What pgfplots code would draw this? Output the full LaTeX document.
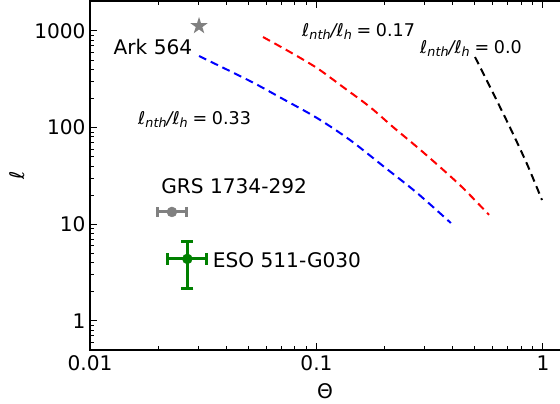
\documentclass[border=0pt]{standalone}
\usepackage{pgfplots}
\pgfplotsset{compat=1.18}
\usepackage{fontspec}
\setmainfont{DejaVu Sans}
\usetikzlibrary{plotmarks}
\definecolor{mplgray}{RGB}{128,128,128}
\definecolor{mplgreen}{RGB}{0,128,0}
\pgfdeclareplotmark{fstar}{%
  \pgfpathmoveto{\pgfpointpolar{90}{\pgfplotmarksize}}%
  \pgfpathlineto{\pgfpointpolar{126}{0.382\pgfplotmarksize}}%
  \pgfpathlineto{\pgfpointpolar{162}{\pgfplotmarksize}}%
  \pgfpathlineto{\pgfpointpolar{198}{0.382\pgfplotmarksize}}%
  \pgfpathlineto{\pgfpointpolar{234}{\pgfplotmarksize}}%
  \pgfpathlineto{\pgfpointpolar{270}{0.382\pgfplotmarksize}}%
  \pgfpathlineto{\pgfpointpolar{306}{\pgfplotmarksize}}%
  \pgfpathlineto{\pgfpointpolar{342}{0.382\pgfplotmarksize}}%
  \pgfpathlineto{\pgfpointpolar{18}{\pgfplotmarksize}}%
  \pgfpathlineto{\pgfpointpolar{54}{0.382\pgfplotmarksize}}%
  \pgfpathclose
  \pgfusepathqfill
}
\newcommand{\sub}[1]{\raisebox{-0.22em}{\fontsize{12.8}{13}\selectfont\itshape #1}}
\newcommand{\lrat}[1]{{\fontsize{17.6}{21}\selectfont\textit{ℓ}\sub{nth}\textit{/ℓ}\sub{h}\hspace{0.28em}=\hspace{0.26em}#1}}
\begin{document}
\begin{tikzpicture}[font=\fontsize{20.2}{24}\selectfont]
\path[use as bounding box, clip] (-90bp,-54bp) rectangle (470bp,350bp);
\begin{axis}[
  at={(0,0)}, anchor=south west,
  scale only axis, width=478.8bp, height=349bp,
  xmode=log, ymode=log,
  xmin=0.01, xmax=1.3, ymin=0.5, ymax=2040,
  clip=false,
  /pgf/number format/assume math mode=true,
  xtick={0.01,0.1,1}, xticklabels={0.01,0.1,1},
  ytick={1,10,100,1000}, yticklabels={1,10,100,1000},
  minor xtick={0.02,0.03,0.04,0.05,0.06,0.07,0.08,0.09,0.2,0.3,0.4,0.5,0.6,0.7,0.8,0.9},
  minor ytick={0.6,0.7,0.8,0.9,2,3,4,5,6,7,8,9,20,30,40,50,60,70,80,90,200,300,400,500,600,700,800,900},
  tick align=inside,
  major tick length=7bp, minor tick length=4bp,
  every tick/.style={black, line width=1bp},
  axis line style={line width=2.5bp},
  xticklabel style={yshift=-2bp},
  yticklabel style={xshift=-1bp},
  xlabel={Θ}, ylabel={\textit{ℓ}},
  every axis x label/.style={at={(rel axis cs:0,0)}, anchor=center, xshift=235bp, yshift=-41bp},
  every axis y label/.style={at={(rel axis cs:0,0)}, anchor=center, xshift=-73bp, yshift=175bp, rotate=90},
]
% theoretical tracks
\addplot[blue, line width=2bp, dash pattern=on 8bp off 5bp, smooth] coordinates {
 (0.0303,550) (0.05086,303.3) (0.07114,197.6) (0.1005,125.7) (0.1406,74.4) (0.1966,40.1) (0.2778,21.1) (0.392,10.3)};
\addplot[red, line width=2bp, dash pattern=on 8bp off 5bp, smooth] coordinates {
 (0.05806,865) (0.0764,605) (0.1005,413) (0.1309,263) (0.1722,163.3) (0.2177,101.4) (0.2778,63.0) (0.3509,39.1) (0.4434,23.7) (0.578,12.5)};
\addplot[black, line width=2bp, dash pattern=on 8bp off 5bp, smooth] coordinates {
 (0.501,537) (0.583,265) (0.714,101) (0.85,42) (0.99,17.8)};
% Ark 564
\addplot[only marks, mark=fstar, mark size=9bp, color=mplgray, mark options={fill=mplgray}] coordinates {(0.0303,1124)};
% GRS 1734-292
\addplot[only marks, mark=*, mark size=5bp, color=mplgray, mark options={fill=mplgray, draw=mplgray},
  error bars/.cd, x dir=both, x explicit,
  error bar style={line width=3bp, mplgray},
  error mark options={rotate=90, line width=3bp, mark size=5bp, mplgray}]
  coordinates {(0.023,13.4) += (0.00354,0) -= (0.0032,0)};
% ESO 511-G030
\addplot[only marks, mark=*, mark size=5bp, color=mplgreen, mark options={fill=mplgreen, draw=mplgreen},
  error bars/.cd, x dir=both, x explicit, y dir=both, y explicit,
  error bar style={line width=3bp, mplgreen},
  error mark options={rotate=90, line width=3bp, mark size=6bp, mplgreen}]
  coordinates {(0.0269,4.38) += (0.00584,2.23) -= (0.00496,2.2)};
% annotations
\node[inner sep=0pt] at (axis cs:0.01897,681) {Ark 564};
\node[inner sep=0pt, anchor=base west] at (axis cs:0.01629,108.9) {\lrat{0.33}};
\node[inner sep=0pt, anchor=base west] at (axis cs:0.0863,885) {\lrat{0.17}};
\node[inner sep=0pt, anchor=base west] at (axis cs:0.2864,591) {\lrat{0.0}};
\node[inner sep=0pt] at (axis cs:0.0433,24.9) {GRS 1734-292};
\node[inner sep=0pt] at (axis cs:0.0741,4.27) {ESO 511-G030};
\end{axis}
\end{tikzpicture}
\end{document}
